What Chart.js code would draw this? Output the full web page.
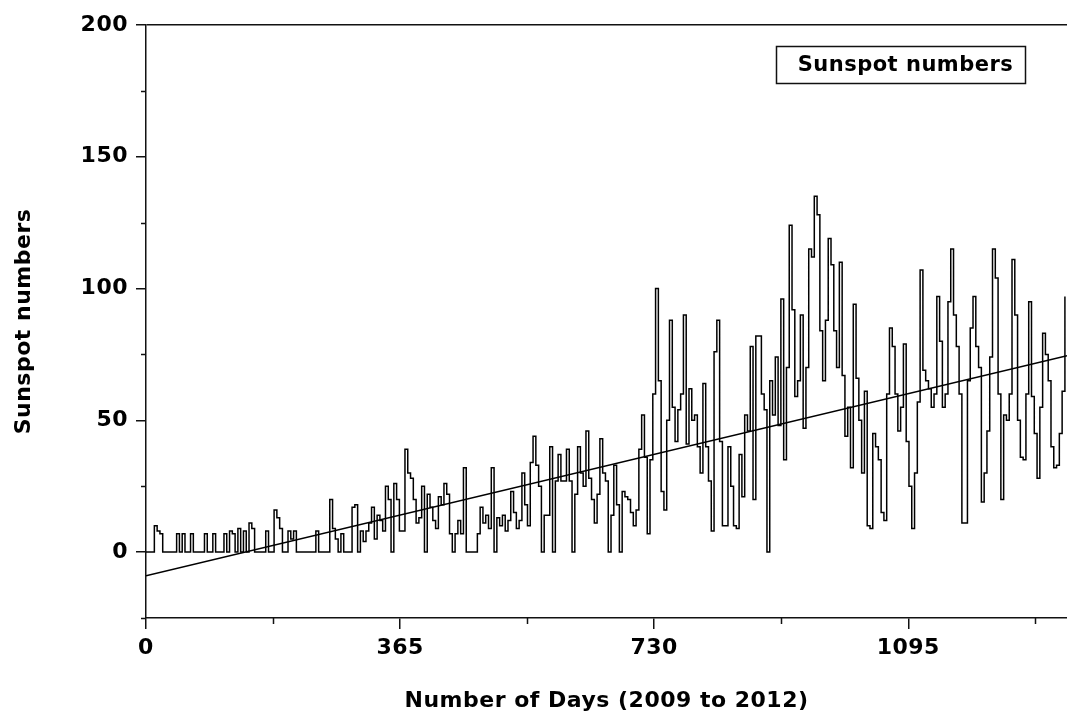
<!DOCTYPE html>
<html>
<head>
<meta charset="utf-8">
<title>Sunspot numbers 2009-2012</title>
<script src="https://cdn.jsdelivr.net/npm/chart.js@4.4.1/dist/chart.umd.min.js"></script>
<style>
  html, body { margin: 0; padding: 0; background: #fff; }
  canvas { display: block; }
</style>
</head>
<body>
<canvas id="sunspot-chart" width="1067" height="718"></canvas>
<script>
// Daily sunspot numbers, one reading every 4 days
const DAY_STEP = 4;
const sunspots = [
  0, 0, 0, 10, 8, 7, 0, 0, 0, 0,
  0, 7, 0, 7, 0, 0, 7, 0, 0, 0,
  0, 7, 0, 0, 7, 0, 0, 0, 7, 0,
  8, 7, 0, 9, 0, 8, 0, 11, 9, 0,
  0, 0, 0, 8, 0, 0, 16, 13, 9, 0,
  0, 8, 5, 8, 0, 0, 0, 0, 0, 0,
  0, 8, 0, 0, 0, 0, 20, 9, 5, 0,
  7, 0, 0, 0, 17, 18, 0, 8, 4, 8,
  11, 17, 5, 14, 12, 8, 25, 20, 0, 26,
  20, 8, 8, 39, 30, 28, 20, 11, 13, 25,
  0, 22, 17, 12, 9, 21, 18, 26, 22, 7,
  0, 7, 12, 7, 32, 0, 0, 0, 0, 7,
  17, 11, 14, 9, 32, 0, 13, 10, 14, 8,
  12, 23, 15, 9, 12, 30, 18, 10, 34, 44,
  33, 25, 0, 14, 14, 40, 0, 27, 37, 27,
  27, 39, 27, 0, 22, 40, 30, 25, 46, 28,
  20, 11, 22, 43, 30, 27, 0, 14, 33, 18,
  0, 23, 21, 20, 15, 10, 16, 39, 52, 36,
  7, 35, 60, 100, 65, 23, 16, 50, 88, 55,
  42, 54, 60, 90, 41, 62, 50, 52, 40, 30,
  64, 40, 27, 8, 76, 88, 42, 10, 10, 40,
  25, 10, 9, 37, 21, 52, 46, 78, 20, 82,
  82, 60, 54, 0, 65, 52, 74, 48, 96, 35,
  70, 124, 92, 59, 65, 90, 47, 70, 115, 112,
  135, 128, 84, 65, 88, 119, 109, 84, 70, 110,
  67, 44, 55, 32, 94, 66, 50, 30, 61, 10,
  9, 45, 40, 35, 15, 12, 60, 85, 78, 60,
  46, 55, 79, 42, 25, 9, 30, 57, 107, 69,
  65, 62, 55, 60, 97, 80, 55, 60, 95, 115,
  90, 78, 60, 11, 11, 65, 85, 97, 78, 70,
  19, 30, 46, 74, 115, 104, 60, 20, 52, 50,
  60, 111, 90, 50, 36, 35, 60, 95, 59, 45,
  28, 55, 83, 75, 65, 40, 32, 33, 45, 61, 97
];
const days = sunspots.map((_, i) => i * DAY_STEP);

// Straight trend line through the data (end points)
const trendDays = [0, 1323];
const trendValues = [-9, 74.5];

// Axis ticks
const xMajorTicks = [0, 365, 730, 1095];
const xMinorTicks = [182.5, 547.5, 912.5, 1277.5];
const yMajorTicks = [0, 50, 100, 150, 200];
const yMinorTicks = [-25, 25, 75, 125, 175];

const legendLabel = "Sunspot numbers";
const xTitle = "Number of Days (2009 to 2012)";
const yTitle = "Sunspot numbers";

const INK = "#111";
const FONT = "'DejaVu Sans', 'Liberation Sans', sans-serif";
const SPACING = "0.5px";

// a touch of letter spacing, like the original export
const letterSpacing = {
  id: "letterSpacing",
  beforeLayout(chart) { chart.ctx.letterSpacing = SPACING; },
  beforeDraw(chart) { chart.ctx.letterSpacing = SPACING; }
};

// short minor ticks outside the axes
const minorTicks = {
  id: "minorTicks",
  afterDraw(chart) {
    const { ctx, chartArea, scales } = chart;
    ctx.save();
    ctx.strokeStyle = INK;
    ctx.lineWidth = 1.5;
    ctx.beginPath();
    xMinorTicks.forEach((v) => {
      const x = Math.round(scales.x.getPixelForValue(v)) + 0.5;
      ctx.moveTo(x, chartArea.bottom);
      ctx.lineTo(x, chartArea.bottom + 6);
    });
    yMinorTicks.forEach((v) => {
      const y = Math.round(scales.y.getPixelForValue(v)) + 0.5;
      ctx.moveTo(chartArea.left - 5, y);
      ctx.lineTo(chartArea.left, y);
    });
    ctx.stroke();
    ctx.restore();
  }
};

// boxed legend with text only, top right of the plot
const boxLegend = {
  id: "boxLegend",
  afterDraw(chart) {
    const { ctx, chartArea } = chart;
    const w = 249, h = 37;
    const x = chartArea.right - 42 - w;
    const y = chartArea.top + 21;
    ctx.save();
    ctx.fillStyle = "#fff";
    ctx.fillRect(x, y, w, h);
    ctx.strokeStyle = INK;
    ctx.lineWidth = 1.5;
    ctx.strokeRect(x + 0.5, y + 0.5, w, h);
    ctx.letterSpacing = SPACING;
    ctx.fillStyle = "#000";
    ctx.font = "bold 21px " + FONT;
    ctx.textAlign = "center";
    ctx.textBaseline = "middle";
    ctx.fillText(legendLabel, x + w / 2 + 5, y + h / 2 + 1);
    ctx.restore();
  }
};

const tickFont = { family: FONT, size: 22, weight: "bold" };

const chart = new Chart(document.getElementById("sunspot-chart"), {
  type: "line",
  data: {
    labels: days,
    datasets: [
      {
        label: legendLabel,
        data: sunspots,
        borderColor: "#000",
        borderWidth: 1.5,
        pointRadius: 0,
        stepped: true,
        fill: false
      },
      {
        label: "Trend",
        data: trendDays.map((d, i) => ({ x: d, y: trendValues[i] })),
        borderColor: "#000",
        borderWidth: 1.5,
        pointRadius: 0,
        fill: false
      }
    ]
  },
  options: {
    responsive: false,
    animation: false,
    layout: { padding: { top: 25, right: 0, left: 0, bottom: 0 } },
    plugins: {
      legend: { display: false },
      tooltip: { enabled: false }
    },
    scales: {
      x: {
        type: "linear",
        min: 0,
        max: 1323,
        afterBuildTicks: (s) => { s.ticks = xMajorTicks.map((v) => ({ value: v })); },
        afterFit: (s) => { s.height = 100; },
        border: { display: true, color: INK, width: 1.5 },
        grid: { drawOnChartArea: false, tickLength: 11, color: INK, lineWidth: 1.5 },
        ticks: {
          color: "#000",
          padding: 6,
          maxRotation: 0,
          autoSkip: false,
          font: tickFont,
          callback: (v) => String(v)
        },
        title: {
          display: true,
          text: xTitle,
          color: "#000",
          padding: { top: 0, bottom: 4 },
          font: tickFont
        }
      },
      y: {
        min: -25,
        max: 200,
        afterBuildTicks: (s) => { s.ticks = yMajorTicks.map((v) => ({ value: v })); },
        afterFit: (s) => { s.width = 146; },
        border: { display: true, color: INK, width: 1.5 },
        grid: {
          drawOnChartArea: true,
          tickLength: 10,
          lineWidth: 1.5,
          // only the top value runs across: it is the frame's top edge
          color: (c) => (c.tick && c.tick.value === 200 ? INK : "rgba(0,0,0,0)"),
          tickColor: INK
        },
        ticks: {
          color: "#000",
          padding: 8,
          font: tickFont,
          callback: (v) => String(v)
        },
        title: {
          display: true,
          text: yTitle,
          color: "#000",
          padding: { top: 11, bottom: 0 },
          font: tickFont
        }
      }
    }
  },
  plugins: [letterSpacing, minorTicks, boxLegend]
});
</script>
</body>
</html>
